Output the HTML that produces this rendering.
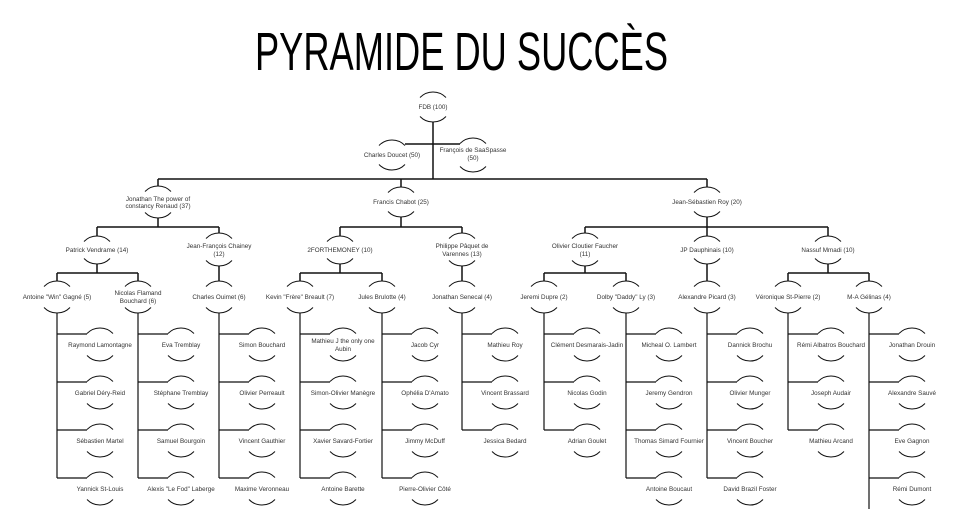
<!DOCTYPE html>
<html><head><meta charset="utf-8"><style>
html,body{margin:0;padding:0;background:#fff;}
svg{display:block;}
text{font-family:"Liberation Sans",sans-serif;}
.l{font-size:6.3px;fill:#333;text-anchor:middle;}
</style></head><body>
<svg width="960" height="509" viewBox="0 0 960 509" xmlns="http://www.w3.org/2000/svg">
<defs>
<path id="t" d="M-13 5.5 A18 18 0 0 1 13 5.5" fill="none" stroke="#111" stroke-width="1"/>
<path id="b" d="M-13 -5.5 A18 18 0 0 0 13 -5.5" fill="none" stroke="#111" stroke-width="1"/>
</defs>
<text x="255" y="70" font-size="54" fill="#000" textLength="413" lengthAdjust="spacingAndGlyphs">PYRAMIDE DU SUCCÈS</text>

<g stroke="#111" stroke-width="1.5" fill="none">
<!-- root -->
<line x1="433" y1="122" x2="433" y2="179"/>
<line x1="405" y1="144" x2="460" y2="144"/>
<line x1="158" y1="179" x2="707" y2="179"/>
<line x1="158" y1="179" x2="158" y2="186"/>
<line x1="401" y1="179" x2="401" y2="187"/>
<line x1="707" y1="179" x2="707" y2="187"/>
<line x1="158" y1="218" x2="158" y2="227"/>
<line x1="401" y1="217" x2="401" y2="227"/>
<line x1="707" y1="217" x2="707" y2="227"/>
<line x1="97" y1="227" x2="219" y2="227"/>
<line x1="340" y1="227" x2="462" y2="227"/>
<line x1="585" y1="227" x2="828" y2="227"/>
<line x1="97" y1="227" x2="97" y2="236"/>
<line x1="219" y1="227" x2="219" y2="233"/>
<line x1="340" y1="227" x2="340" y2="236"/>
<line x1="462" y1="227" x2="462" y2="233"/>
<line x1="585" y1="227" x2="585" y2="233"/>
<line x1="707" y1="227" x2="707" y2="236"/>
<line x1="828" y1="227" x2="828" y2="236"/>
<line x1="97" y1="264" x2="97" y2="273"/>
<line x1="219" y1="266" x2="219" y2="281"/>
<line x1="340" y1="264" x2="340" y2="273"/>
<line x1="462" y1="266" x2="462" y2="281"/>
<line x1="585" y1="266" x2="585" y2="273"/>
<line x1="707" y1="264" x2="707" y2="281"/>
<line x1="828" y1="264" x2="828" y2="273"/>
<line x1="57" y1="273" x2="138" y2="273"/>
<line x1="300" y1="273" x2="382" y2="273"/>
<line x1="544" y1="273" x2="626" y2="273"/>
<line x1="788" y1="273" x2="869" y2="273"/>
<line x1="57" y1="273" x2="57" y2="281"/>
<line x1="138" y1="273" x2="138" y2="281"/>
<line x1="300" y1="273" x2="300" y2="281"/>
<line x1="382" y1="273" x2="382" y2="281"/>
<line x1="544" y1="273" x2="544" y2="281"/>
<line x1="626" y1="273" x2="626" y2="281"/>
<line x1="788" y1="273" x2="788" y2="281"/>
<line x1="869" y1="273" x2="869" y2="281"/>
</g>
<g stroke="#111" stroke-width="1.2" fill="none">
<!-- level 4 verticals -->
<line x1="57" y1="313" x2="57" y2="478"/>
<line x1="138" y1="313" x2="138" y2="478"/>
<line x1="219" y1="313" x2="219" y2="478"/>
<line x1="300" y1="313" x2="300" y2="478"/>
<line x1="382" y1="313" x2="382" y2="478"/>
<line x1="462" y1="313" x2="462" y2="430"/>
<line x1="544" y1="313" x2="544" y2="430"/>
<line x1="626" y1="313" x2="626" y2="478"/>
<line x1="707" y1="313" x2="707" y2="478"/>
<line x1="788" y1="313" x2="788" y2="430"/>
<line x1="869" y1="313" x2="869" y2="509"/>
<!-- hooks -->
<path d="M57 334H87M57 382H87M57 430H87M57 478H87"/>
<path d="M138 334H168M138 382H168M138 430H168M138 478H168"/>
<path d="M219 334H249M219 382H249M219 430H249M219 478H249"/>
<path d="M300 334H330M300 382H330M300 430H330M300 478H330"/>
<path d="M382 334H412M382 382H412M382 430H412M382 478H412"/>
<path d="M462 334H492M462 382H492M462 430H492"/>
<path d="M544 334H574M544 382H574M544 430H574"/>
<path d="M626 334H656M626 382H656M626 430H656M626 478H656"/>
<path d="M707 334H737M707 382H737M707 430H737M707 478H737"/>
<path d="M788 334H818M788 382H818M788 430H818"/>
<path d="M869 334H899M869 382H899M869 430H899M869 478H899"/>
</g>

<!-- arcs for upper nodes -->
<use href="#t" x="433" y="92"/><use href="#b" x="433" y="122"/>
<use href="#t" x="392" y="140"/><use href="#b" x="392" y="170"/>
<use href="#t" x="473" y="138"/><use href="#b" x="473" y="172"/>
<use href="#t" x="158" y="186"/><use href="#b" x="158" y="218"/>
<use href="#t" x="401" y="187"/><use href="#b" x="401" y="217"/>
<use href="#t" x="707" y="187"/><use href="#b" x="707" y="217"/>
<use href="#t" x="97" y="236"/><use href="#b" x="97" y="264"/>
<use href="#t" x="219" y="233"/><use href="#b" x="219" y="266"/>
<use href="#t" x="340" y="236"/><use href="#b" x="340" y="264"/>
<use href="#t" x="462" y="233"/><use href="#b" x="462" y="266"/>
<use href="#t" x="585" y="233"/><use href="#b" x="585" y="266"/>
<use href="#t" x="707" y="236"/><use href="#b" x="707" y="264"/>
<use href="#t" x="828" y="236"/><use href="#b" x="828" y="264"/>
<g>
<use href="#t" x="57" y="281"/><use href="#b" x="57" y="313"/>
<use href="#t" x="138" y="281"/><use href="#b" x="138" y="313"/>
<use href="#t" x="219" y="281"/><use href="#b" x="219" y="313"/>
<use href="#t" x="300" y="281"/><use href="#b" x="300" y="313"/>
<use href="#t" x="382" y="281"/><use href="#b" x="382" y="313"/>
<use href="#t" x="462" y="281"/><use href="#b" x="462" y="313"/>
<use href="#t" x="544" y="281"/><use href="#b" x="544" y="313"/>
<use href="#t" x="626" y="281"/><use href="#b" x="626" y="313"/>
<use href="#t" x="707" y="281"/><use href="#b" x="707" y="313"/>
<use href="#t" x="788" y="281"/><use href="#b" x="788" y="313"/>
<use href="#t" x="869" y="281"/><use href="#b" x="869" y="313"/>
</g>
<!-- child arcs: cx = px+43 -->
<g>
<use href="#t" x="100" y="328"/><use href="#b" x="100" y="361"/><use href="#t" x="100" y="376"/><use href="#b" x="100" y="409"/><use href="#t" x="100" y="424"/><use href="#b" x="100" y="457"/><use href="#t" x="100" y="472"/><use href="#b" x="100" y="505"/>
<use href="#t" x="181" y="328"/><use href="#b" x="181" y="361"/><use href="#t" x="181" y="376"/><use href="#b" x="181" y="409"/><use href="#t" x="181" y="424"/><use href="#b" x="181" y="457"/><use href="#t" x="181" y="472"/><use href="#b" x="181" y="505"/>
<use href="#t" x="262" y="328"/><use href="#b" x="262" y="361"/><use href="#t" x="262" y="376"/><use href="#b" x="262" y="409"/><use href="#t" x="262" y="424"/><use href="#b" x="262" y="457"/><use href="#t" x="262" y="472"/><use href="#b" x="262" y="505"/>
<use href="#t" x="343" y="328"/><use href="#b" x="343" y="361"/><use href="#t" x="343" y="376"/><use href="#b" x="343" y="409"/><use href="#t" x="343" y="424"/><use href="#b" x="343" y="457"/><use href="#t" x="343" y="472"/><use href="#b" x="343" y="505"/>
<use href="#t" x="425" y="328"/><use href="#b" x="425" y="361"/><use href="#t" x="425" y="376"/><use href="#b" x="425" y="409"/><use href="#t" x="425" y="424"/><use href="#b" x="425" y="457"/><use href="#t" x="425" y="472"/><use href="#b" x="425" y="505"/>
<use href="#t" x="505" y="328"/><use href="#b" x="505" y="361"/><use href="#t" x="505" y="376"/><use href="#b" x="505" y="409"/><use href="#t" x="505" y="424"/><use href="#b" x="505" y="457"/>
<use href="#t" x="587" y="328"/><use href="#b" x="587" y="361"/><use href="#t" x="587" y="376"/><use href="#b" x="587" y="409"/><use href="#t" x="587" y="424"/><use href="#b" x="587" y="457"/>
<use href="#t" x="669" y="328"/><use href="#b" x="669" y="361"/><use href="#t" x="669" y="376"/><use href="#b" x="669" y="409"/><use href="#t" x="669" y="424"/><use href="#b" x="669" y="457"/><use href="#t" x="669" y="472"/><use href="#b" x="669" y="505"/>
<use href="#t" x="750" y="328"/><use href="#b" x="750" y="361"/><use href="#t" x="750" y="376"/><use href="#b" x="750" y="409"/><use href="#t" x="750" y="424"/><use href="#b" x="750" y="457"/><use href="#t" x="750" y="472"/><use href="#b" x="750" y="505"/>
<use href="#t" x="831" y="328"/><use href="#b" x="831" y="361"/><use href="#t" x="831" y="376"/><use href="#b" x="831" y="409"/><use href="#t" x="831" y="424"/><use href="#b" x="831" y="457"/>
<use href="#t" x="912" y="328"/><use href="#b" x="912" y="361"/><use href="#t" x="912" y="376"/><use href="#b" x="912" y="409"/><use href="#t" x="912" y="424"/><use href="#b" x="912" y="457"/><use href="#t" x="912" y="472"/><use href="#b" x="912" y="505"/>
</g>

<!-- labels -->
<g class="l">
<text class="l" x="433" y="109">FDB (100)</text>
<text class="l" x="392" y="157">Charles Doucet (50)</text>
<text class="l" x="473" y="152">François de SaaSpasse</text>
<text class="l" x="473" y="160">(50)</text>
<text class="l" x="158" y="201">Jonathan The power of</text>
<text class="l" x="158" y="208">constancy Renaud (37)</text>
<text class="l" x="401" y="204">Francis Chabot (25)</text>
<text class="l" x="707" y="204">Jean-Sébastien Roy (20)</text>
<text class="l" x="97" y="252">Patrick Vendrame (14)</text>
<text class="l" x="219" y="248">Jean-François Chainey</text>
<text class="l" x="219" y="256">(12)</text>
<text class="l" x="340" y="252">2FORTHEMONEY (10)</text>
<text class="l" x="462" y="248">Philippe Pâquet de</text>
<text class="l" x="462" y="256">Varennes (13)</text>
<text class="l" x="585" y="248">Olivier Cloutier Faucher</text>
<text class="l" x="585" y="256">(11)</text>
<text class="l" x="707" y="252">JP Dauphinais (10)</text>
<text class="l" x="828" y="252">Nassuf Mmadi (10)</text>

<text class="l" x="57" y="299">Antoine "Win" Gagné (5)</text>
<text class="l" x="138" y="295">Nicolas Flamand</text>
<text class="l" x="138" y="303">Bouchard (6)</text>
<text class="l" x="219" y="299">Charles Ouimet (6)</text>
<text class="l" x="300" y="299">Kevin "Frère" Breault (7)</text>
<text class="l" x="382" y="299">Jules Brulotte (4)</text>
<text class="l" x="462" y="299">Jonathan Senecal (4)</text>
<text class="l" x="544" y="299">Jeremi Dupre (2)</text>
<text class="l" x="626" y="299">Dolby "Daddy" Ly (3)</text>
<text class="l" x="707" y="299">Alexandre Picard (3)</text>
<text class="l" x="788" y="299">Véronique St-Pierre (2)</text>
<text class="l" x="869" y="299">M-A Gélinas (4)</text>

<text class="l" x="100" y="347">Raymond Lamontagne</text>
<text class="l" x="100" y="395">Gabriel Déry-Reid</text>
<text class="l" x="100" y="443">Sébastien Martel</text>
<text class="l" x="100" y="491">Yannick St-Louis</text>
<text class="l" x="181" y="347">Eva Tremblay</text>
<text class="l" x="181" y="395">Stéphane Tremblay</text>
<text class="l" x="181" y="443">Samuel Bourgoin</text>
<text class="l" x="181" y="491">Alexis "Le Fod" Laberge</text>
<text class="l" x="262" y="347">Simon Bouchard</text>
<text class="l" x="262" y="395">Olivier Perreault</text>
<text class="l" x="262" y="443">Vincent Gauthier</text>
<text class="l" x="262" y="491">Maxime Veronneau</text>
<text class="l" x="343" y="343">Mathieu J the only one</text>
<text class="l" x="343" y="351">Aubin</text>
<text class="l" x="343" y="395">Simon-Olivier Manègre</text>
<text class="l" x="343" y="443">Xavier Savard-Fortier</text>
<text class="l" x="343" y="491">Antoine Barette</text>
<text class="l" x="425" y="347">Jacob Cyr</text>
<text class="l" x="425" y="395">Ophélia D'Amato</text>
<text class="l" x="425" y="443">Jimmy McDuff</text>
<text class="l" x="425" y="491">Pierre-Olivier Côté</text>
<text class="l" x="505" y="347">Mathieu Roy</text>
<text class="l" x="505" y="395">Vincent Brassard</text>
<text class="l" x="505" y="443">Jessica Bedard</text>
<text class="l" x="587" y="347">Clément Desmarais-Jadin</text>
<text class="l" x="587" y="395">Nicolas Godin</text>
<text class="l" x="587" y="443">Adrian Goulet</text>
<text class="l" x="669" y="347">Micheal O. Lambert</text>
<text class="l" x="669" y="395">Jeremy Gendron</text>
<text class="l" x="669" y="443">Thomas Simard Fournier</text>
<text class="l" x="669" y="491">Antoine Boucaut</text>
<text class="l" x="750" y="347">Dannick Brochu</text>
<text class="l" x="750" y="395">Olivier Munger</text>
<text class="l" x="750" y="443">Vincent Boucher</text>
<text class="l" x="750" y="491">David Brazil Foster</text>
<text class="l" x="831" y="347">Rémi Albatros Bouchard</text>
<text class="l" x="831" y="395">Joseph Audair</text>
<text class="l" x="831" y="443">Mathieu Arcand</text>
<text class="l" x="912" y="347">Jonathan Drouin</text>
<text class="l" x="912" y="395">Alexandre Sauvé</text>
<text class="l" x="912" y="443">Eve Gagnon</text>
<text class="l" x="912" y="491">Rémi Dumont</text>
</g>
</svg>
</body></html>
